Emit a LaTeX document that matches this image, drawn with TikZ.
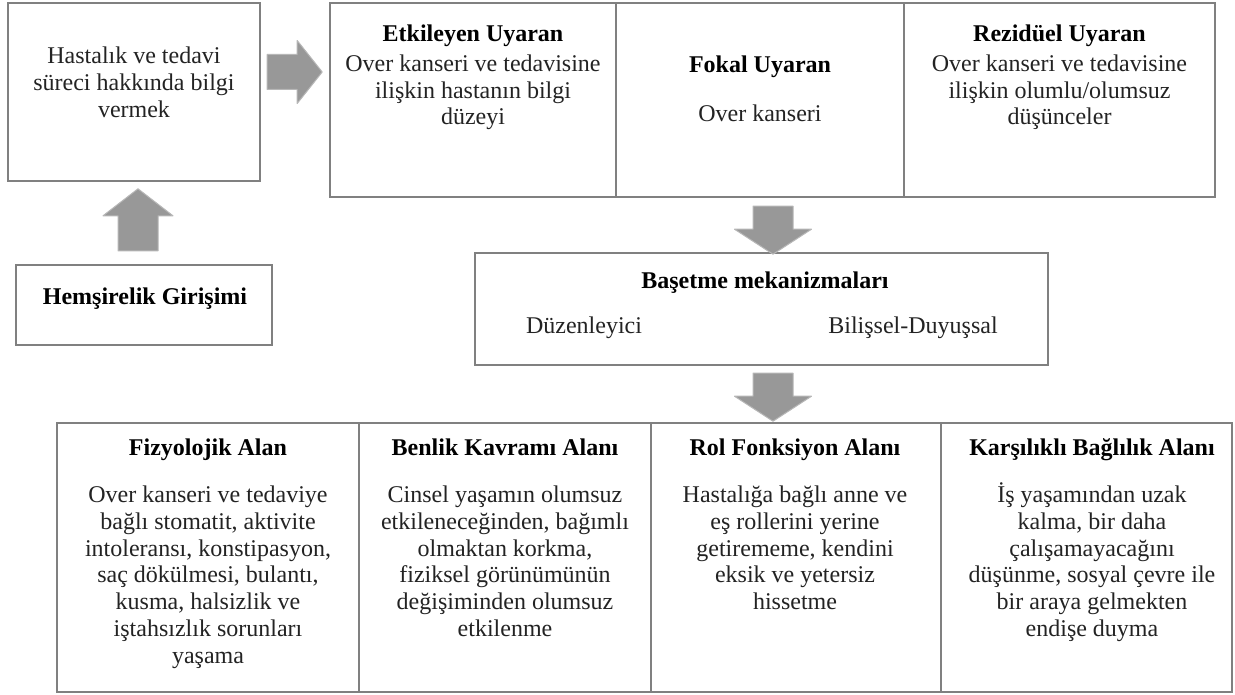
\documentclass[tikz,border=0pt]{standalone}
\usepackage{fontspec}
\setmainfont{Liberation Serif}
\usetikzlibrary{calc}
\definecolor{boxgray}{RGB}{128,128,128}
\definecolor{arrowgray}{RGB}{152,152,152}
\definecolor{bodytext}{RGB}{35,35,35}
\begin{document}
\begin{tikzpicture}[x=1pt,y=-1pt,
  box/.style={draw=boxgray, line width=1.6pt, inner sep=0pt},
  ttl/.style={font=\fontsize{24}{27}\selectfont\bfseries, text=black, inner sep=0pt, anchor=base},
  body/.style={font=\fontsize{24}{#1}\selectfont, text=bodytext, align=center, inner sep=0pt, anchor=base},
  body/.default=26.7,
  arrowfill/.style={fill=arrowgray, draw=arrowgray!70, line width=1pt, line join=round},
  rarrow/.pic={\path[arrowfill] (-55,-17.5) -- (-25,-17.5) -- (-25,-31.5) -- (0,0) -- (-25,31.5) -- (-25,17.5) -- (-55,17.5) -- cycle;},
  darrow/.pic={\path[arrowfill] (-20,-48) -- (20,-48) -- (20,-25) -- (38.5,-25) -- (0,0) -- (-38.5,-25) -- (-20,-25) -- cycle;},
  uarrow/.pic={\path[arrowfill] (-20,62) -- (20,62) -- (20,27) -- (35,27) -- (0,0) -- (-35,27) -- (-20,27) -- cycle;}
]
\useasboundingbox (0,0) rectangle (1235,695);
\fill[white] (0,0) rectangle (1235,695);

% boxes
\node[box, minimum width=252pt, minimum height=178pt] (hasta) at (134,92) {};
\node[box, minimum width=286pt, minimum height=194pt] (etk) at (473,100) {};
\node[box, minimum width=288pt, minimum height=194pt] (fokal) at (760,100) {};
\node[box, minimum width=311pt, minimum height=194pt] (rez) at (1059.5,100) {};
\node[box, minimum width=256pt, minimum height=80pt] (hems) at (144,305) {};
\node[box, minimum width=573pt, minimum height=112pt] (baset) at (761.5,309) {};
\node[box, minimum width=302pt, minimum height=269pt] (fiz) at (208,557.5) {};
\node[box, minimum width=292pt, minimum height=269pt] (ben) at (505,557.5) {};
\node[box, minimum width=290pt, minimum height=269pt] (rol) at (796,557.5) {};
\node[box, minimum width=291pt, minimum height=269pt] (kar) at (1086.5,557.5) {};

% texts (multi-line nodes: base anchor = baseline of the last line)
\node[body=27] (thasta) at (134,118) {Hastalık ve tedavi\\süreci hakkında bilgi\\vermek};
\node[ttl] (tetk) at (473,42) {Etkileyen Uyaran};
\node[body=26.7] (betk) at (473,125) {Over kanseri ve tedavisine\\ilişkin hastanın bilgi\\düzeyi};
\node[ttl] (tfok) at (760,73) {Fokal Uyaran};
\node[body] (bfok) at (760,122) {Over kanseri};
\node[ttl] (trez) at (1059.5,42) {Rezidüel Uyaran};
\node[body=26.7] (brez) at (1059.5,125) {Over kanseri ve tedavisine\\ilişkin olumlu/olumsuz\\düşünceler};
\node[ttl] (thems) at (145,305) {Hemşirelik Girişimi};
\node[ttl] (tbas) at (765,289) {Başetme mekanizmaları};
\node[body] (bduz) at (584,334) {Düzenleyici};
\node[body] (bbil) at (913,334) {Bilişsel-Duyuşsal};

\node[ttl] (tfiz) at (208,455) {Fizyolojik Alan};
\node[body] (bfiz) at (208,663) {Over kanseri ve tedaviye\\bağlı stomatit, aktivite\\intoleransı, konstipasyon,\\saç dökülmesi, bulantı,\\kusma, halsizlik ve\\iştahsızlık sorunları\\yaşama};
\node[ttl] (tben) at (505,455) {Benlik Kavramı Alanı};
\node[body] (bben) at (505,636.3) {Cinsel yaşamın olumsuz\\etkileneceğinden, bağımlı\\olmaktan korkma,\\fiziksel görünümünün\\değişiminden olumsuz\\etkilenme};
\node[ttl] (trol) at (795,455) {Rol Fonksiyon Alanı};
\node[body] (brol) at (795,609.6) {Hastalığa bağlı anne ve\\eş rollerini yerine\\getirememe, kendini\\eksik ve yetersiz\\hissetme};
\node[ttl] (tkar) at (1092,455) {Karşılıklı Bağlılık Alanı};
\node[body] (bkar) at (1092,636.3) {İş yaşamından uzak\\kalma, bir daha\\çalışamayacağını\\düşünme, sosyal çevre ile\\bir araya gelmekten\\endişe duyma};

% block arrows
\pic at ($(etk.west |- 0,72)+(-7,0)$) {rarrow};
\pic at ($(hasta.south)+(4,7)$) {uarrow};
\pic at ($(baset.north -| 773,0)+(0,2)$) {darrow};
\pic at ($(fiz.north -| 773,0)+(0,-1)$) {darrow};
\end{tikzpicture}
\end{document}
